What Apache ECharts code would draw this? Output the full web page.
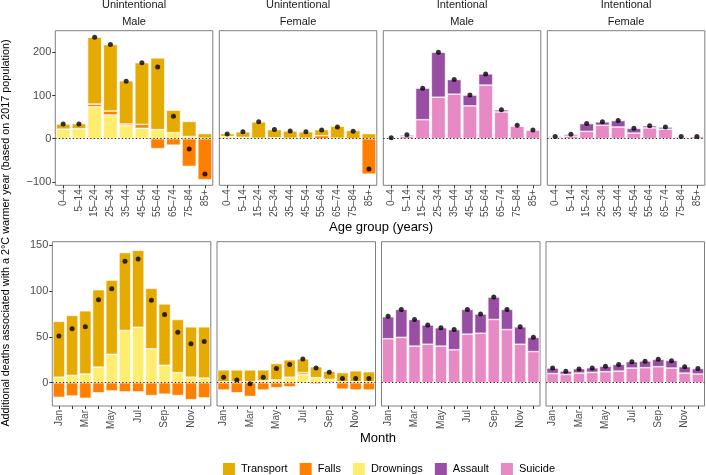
<!DOCTYPE html>
<html>
<head>
<meta charset="utf-8">
<script src="https://cdn.jsdelivr.net/npm/echarts@6/dist/echarts.min.js"></script>
<style>
html,body{margin:0;padding:0;background:#fff;}
#chart{width:706px;height:475px;}
</style>
</head>
<body>
<div id="chart"></div>
<script>
// ---------------- DATA ----------------
const ageGroups = ['0–4','5–14','15–24','25–34','35–44','45–54','55–64','65–74','75–84','85+'];
const months = ['Jan','Feb','Mar','Apr','May','Jun','Jul','Aug','Sep','Oct','Nov','Dec'];

// Unintentional, Male, by age
const ageMaleTransport = [12, 12, 155, 154, 100, 143, 166, 52, 35, 11];
const ageMaleFalls     = [0, 0, 6, 9, 4, 9, -23, -15, -64, -95];
const ageMaleDrown     = [22, 23, 74, 55, 30, 24, 21, 14, 5, 1];
const ageMaleUnintNet  = [34, 34, 235, 218, 133, 176, 166, 52, -24, -82];

// Unintentional, Female, by age
const ageFemTransport = [7, 13, 38, 19, 17, 15, 14, 28, 19, 12];
const ageFemFalls     = [0, 0, 0, 1, 0, 0, 7, -1, -2, -82];
const ageFemDrown     = [5, 3, 1, 1, 1, 1, 0, 1, 0, 0];
const ageFemUnintNet  = [11, 16, 39, 21, 18, 16, 20, 27, 17, -70];

// Intentional, Male, by age
const ageMaleSuicide = [0, 6, 44, 96, 103, 76, 124, 62, 29, 20];
const ageMaleAssault = [2, 3, 73, 104, 34, 25, 26, 5, 2, 0.5];
const ageMaleIntNet  = [2, 9, 117, 200, 137, 101, 150, 67, 31, 20];

// Intentional, Female, by age
const ageFemSuicide = [2, 6, 17, 31, 27, 13, 25, 22, 4, 5];
const ageFemAssault = [3, 4, 18, 8, 15, 11, 5, 5, 1, 0.5];
const ageFemIntNet  = [5, 10, 35, 39, 42, 24, 30, 27, 5, 5];

// Unintentional, Male, by month
const monMaleTransport = [61, 65.5, 69, 84.5, 81, 85, 84, 66, 67, 58, 55, 56];
const monMaleFalls     = [-16, -14.5, -17, -11, -9, -10, -10, -14, -12.5, -14, -18.5, -16.5];
const monMaleDrown     = [6, 8, 9.5, 17, 31, 57, 60.5, 37, 19, 11, 6, 5];
const monMaleUnintNet  = [51, 59, 61, 90.5, 102.5, 132.5, 135, 90, 74.5, 55, 42.5, 45];

// Unintentional, Female, by month
const monFemTransport = [13, 13, 13, 12, 18, 19, 15, 12, 9, 10, 12, 11];
const monFemFalls     = [-8, -11, -15, -8, -5.5, -4.5, 2, -1.5, -1, -7, -8, -8];
const monFemDrown     = [1, 1, 1, 2, 3, 6, 9, 5.5, 3.5, 1, 1, 1];
const monFemUnintNet  = [6, 3, -1, 6, 15.5, 20, 26, 16, 11.5, 4.5, 4.5, 4.5];

// Intentional, Male, by month
const monMaleSuicide = [48, 49.5, 40, 42, 40, 36, 53, 54, 69, 58, 42, 34];
const monMaleAssault = [24, 30.5, 29, 21, 20, 22, 27, 21, 24.5, 22, 19, 15.5];
const monMaleIntNet  = [72.5, 80, 69, 63, 60, 58, 80, 75, 93.5, 80, 61, 49.5];

// Intentional, Female, by month
const monFemSuicide = [10, 9, 10.5, 11.3, 12, 12.7, 16, 16.4, 17.5, 16, 10.5, 9.5];
const monFemAssault = [6, 3.7, 4.8, 5, 6, 7.3, 7, 7.3, 8, 8.4, 7, 6];
const monFemIntNet  = [16, 12.5, 15, 16, 18, 20, 23, 23.5, 25.5, 24, 17.5, 15.5];

const topTicks = [-100, 0, 100, 200];
const bottomTicks = [0, 50, 100, 150];
const stripTop = ['Unintentional', 'Unintentional', 'Intentional', 'Intentional'];
const stripSex = ['Male', 'Female', 'Male', 'Female'];
const legendNames = ['Transport', 'Falls', 'Drownings', 'Assault', 'Suicide'];

// ---------------- STYLE ----------------
const FONT = 'Liberation Sans, Arial, Helvetica, sans-serif';
const COLORS = {
  Transport: '#E6AB02',
  Falls: '#FF7F00',
  Drownings: '#FFED6F',
  Assault: '#984EA3',
  Suicide: '#E78AC3'
};

const topLefts = [55.3, 219.3, 383.3, 547.3];
const botLefts = [52.3, 217, 381.5, 546];
const topW = 157.5, botW = 158.5;
const topY = 30.7, topH = 154.6;
const botY = 241.7, botH = 164.3;

const panels = [
  // top row: age
  {left: topLefts[0], top: topY, w: topW, h: topH, cats: ageGroups, row: 0, first: true,
   segs: [['Drownings', ageMaleDrown], ['Falls', ageMaleFalls], ['Transport', ageMaleTransport]], net: ageMaleUnintNet},
  {left: topLefts[1], top: topY, w: topW, h: topH, cats: ageGroups, row: 0,
   segs: [['Drownings', ageFemDrown], ['Falls', ageFemFalls], ['Transport', ageFemTransport]], net: ageFemUnintNet},
  {left: topLefts[2], top: topY, w: topW, h: topH, cats: ageGroups, row: 0,
   segs: [['Suicide', ageMaleSuicide], ['Assault', ageMaleAssault]], net: ageMaleIntNet},
  {left: topLefts[3], top: topY, w: topW, h: topH, cats: ageGroups, row: 0,
   segs: [['Suicide', ageFemSuicide], ['Assault', ageFemAssault]], net: ageFemIntNet},
  // bottom row: month
  {left: botLefts[0], top: botY, w: botW, h: botH, cats: months, row: 1, first: true,
   segs: [['Drownings', monMaleDrown], ['Falls', monMaleFalls], ['Transport', monMaleTransport]], net: monMaleUnintNet},
  {left: botLefts[1], top: botY, w: botW, h: botH, cats: months, row: 1,
   segs: [['Drownings', monFemDrown], ['Falls', monFemFalls], ['Transport', monFemTransport]], net: monFemUnintNet},
  {left: botLefts[2], top: botY, w: botW, h: botH, cats: months, row: 1,
   segs: [['Suicide', monMaleSuicide], ['Assault', monMaleAssault]], net: monMaleIntNet},
  {left: botLefts[3], top: botY, w: botW, h: botH, cats: months, row: 1,
   segs: [['Suicide', monFemSuicide], ['Assault', monFemAssault]], net: monFemIntNet}
];

const grid = [], xAxis = [], yAxis = [], series = [];

panels.forEach((p, i) => {
  grid.push({
    left: p.left, top: p.top, width: p.w, height: p.h,
    show: true, borderColor: '#7f7f7f', borderWidth: 1, backgroundColor: 'transparent',
    containLabel: false
  });
  xAxis.push({
    type: 'category', gridIndex: i, data: p.cats, position: 'bottom',
    axisLine: {show: false, onZero: false},
    axisTick: {show: true, alignWithLabel: true, interval: 0, length: 3, lineStyle: {color: '#333', width: 1}},
    axisLabel: {
      rotate: 90, fontSize: 10, color: '#4d4d4d', fontFamily: FONT, margin: 4,
      interval: p.row === 1 ? 1 : 0
    },
    splitLine: {show: false}
  });
  const ticks = p.row === 0 ? topTicks : bottomTicks;
  yAxis.push({
    type: 'value', gridIndex: i,
    min: p.row === 0 ? -107.9 : -25.4,
    max: p.row === 0 ? 250 : 153.9,
    axisLine: {show: false, onZero: false},
    splitLine: {show: false},
    axisTick: {show: !!p.first, length: 3, customValues: ticks, lineStyle: {color: '#333', width: 1}},
    axisLabel: {
      show: !!p.first, customValues: ticks, fontSize: 11, color: '#4d4d4d', fontFamily: FONT, margin: 4,
      formatter: v => (v < 0 ? '\u2212' + Math.abs(v) : String(v))
    }
  });
  p.segs.forEach((s, k) => {
    const ser = {
      type: 'bar', name: s[0], xAxisIndex: i, yAxisIndex: i, stack: 'st' + i,
      data: s[1], barCategoryGap: '10%',
      itemStyle: {color: COLORS[s[0]], borderColor: '#ffffff', borderWidth: 0.6},
      emphasis: {disabled: true}
    };
    if (k === p.segs.length - 1) {
      ser.markLine = {
        silent: true, symbol: 'none', animation: false,
        label: {show: false},
        lineStyle: {type: [1.3, 2.2], color: '#222', width: 1.1},
        data: [{yAxis: 0}]
      };
    }
    series.push(ser);
  });
  series.push({
    type: 'scatter', name: 'Net', xAxisIndex: i, yAxisIndex: i, data: p.net,
    symbolSize: 5, itemStyle: {color: '#000'}, z: 10
  });
});

// graphic text elements (facet strips, axis titles)
const graphic = [];
for (let c = 0; c < 4; c++) {
  const cx = topLefts[c] + topW / 2;
  graphic.push({type: 'text', x: cx, y: 5, style: {
    text: stripTop[c], align: 'center', verticalAlign: 'middle',
    font: '11px ' + FONT, fill: '#1a1a1a'}});
  graphic.push({type: 'text', x: cx, y: 22, style: {
    text: stripSex[c], align: 'center', verticalAlign: 'middle',
    font: '11px ' + FONT, fill: '#1a1a1a'}});
}
graphic.push({type: 'text', x: 381, y: 227, style: {
  text: 'Age group (years)', align: 'center', verticalAlign: 'middle',
  font: '13px ' + FONT, fill: '#000'}});
graphic.push({type: 'text', x: 378, y: 438, style: {
  text: 'Month', align: 'center', verticalAlign: 'middle',
  font: '13px ' + FONT, fill: '#000'}});
graphic.push({type: 'text', x: 6, y: 233, rotation: Math.PI / 2, style: {
  text: 'Additional deaths associated with a 2°C warmer year (based on 2017 population)',
  align: 'center', verticalAlign: 'middle', font: '10.8px ' + FONT, fill: '#000'}});

const chart = echarts.init(document.getElementById('chart'), null, {renderer: 'canvas'});
chart.setOption({
  animation: false,
  backgroundColor: '#fff',
  textStyle: {fontFamily: FONT},
  grid, xAxis, yAxis, series, graphic,
  legend: {
    data: legendNames, left: 216, top: 456, orient: 'horizontal',
    icon: 'rect', itemWidth: 14, itemHeight: 14, itemGap: 10,
    textStyle: {fontSize: 11, color: '#000', fontFamily: FONT},
    selectedMode: false
  }
});
</script>
</body>
</html>
